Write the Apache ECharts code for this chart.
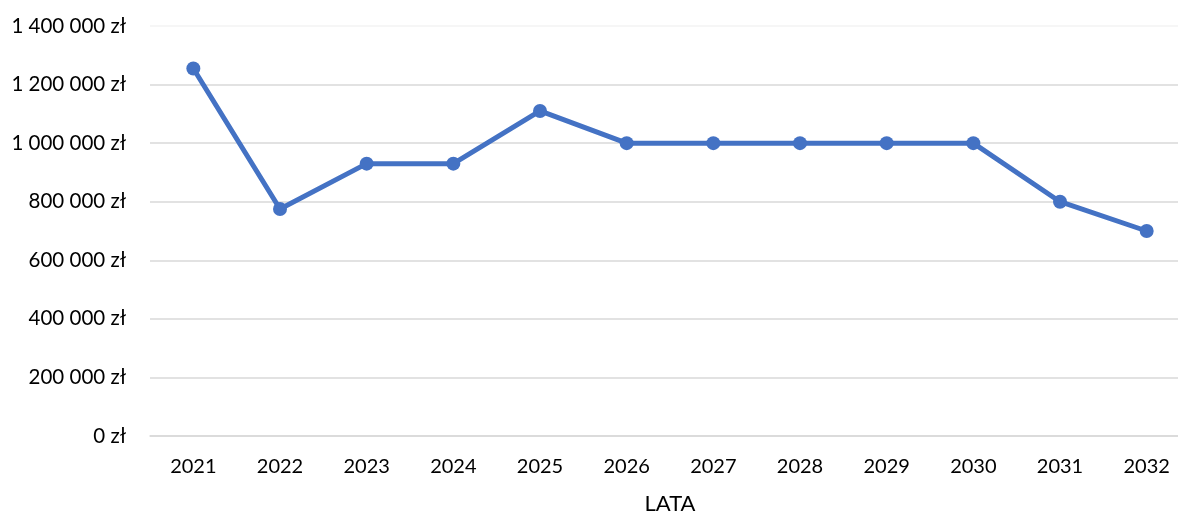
<!DOCTYPE html>
<html>
<head>
<meta charset="utf-8">
<script src="https://cdn.jsdelivr.net/npm/echarts@6/dist/echarts.min.js"></script>
<style>html,body{margin:0;padding:0;background:#fff;}#c{width:1178px;height:516px;}</style>
</head>
<body>
<div id="c"></div>
<script>
const categories = ['2021','2022','2023','2024','2025','2026','2027','2028','2029','2030','2031','2032'];
const values = [1255000, 775000, 930000, 930000, 1110000, 1000000, 1000000, 1000000, 1000000, 1000000, 800000, 700000];
const xAxisName = 'LATA';

function fmt(v){
  return String(v).replace(/\B(?=(\d{3})+(?!\d))/g, ' ') + ' zł';
}

const chart = echarts.init(document.getElementById('c'));
const font = 'Lato, "Open Sans", "Noto Sans", sans-serif';
chart.setOption({
  animation: false,
  grid: { left: 150, top: 26, width: 1040, height: 410, outerBoundsMode: 'none', containLabel: false },
  xAxis: {
    type: 'category',
    data: categories,
    name: xAxisName,
    nameLocation: 'middle',
    nameGap: 57,
    nameTextStyle: { fontSize: 22, color: '#000', fontFamily: font },
    axisLine: { lineStyle: { color: '#D9D9D9', width: 1.5 } },
    axisTick: { show: false },
    axisLabel: { fontSize: 20, color: '#000', fontFamily: font, margin: 21 }
  },
  yAxis: {
    type: 'value',
    min: 0, max: 1400000, interval: 200000,
    axisLine: { show: false },
    axisTick: { show: false },
    splitLine: { lineStyle: { color: ['#D9D9D9','#D9D9D9','#D9D9D9','#D9D9D9','#D9D9D9','#D9D9D9','#D9D9D9','#F3F3F3'], width: 1.5 } },
    axisLabel: { fontSize: 20.5, color: '#000', fontFamily: font, margin: 24, formatter: fmt }
  },
  series: [{
    type: 'line',
    data: values,
    symbol: 'circle',
    symbolSize: 14,
    lineStyle: { color: '#4472C4', width: 5 },
    itemStyle: { color: '#4472C4' }
  }]
});
</script>
</body>
</html>
